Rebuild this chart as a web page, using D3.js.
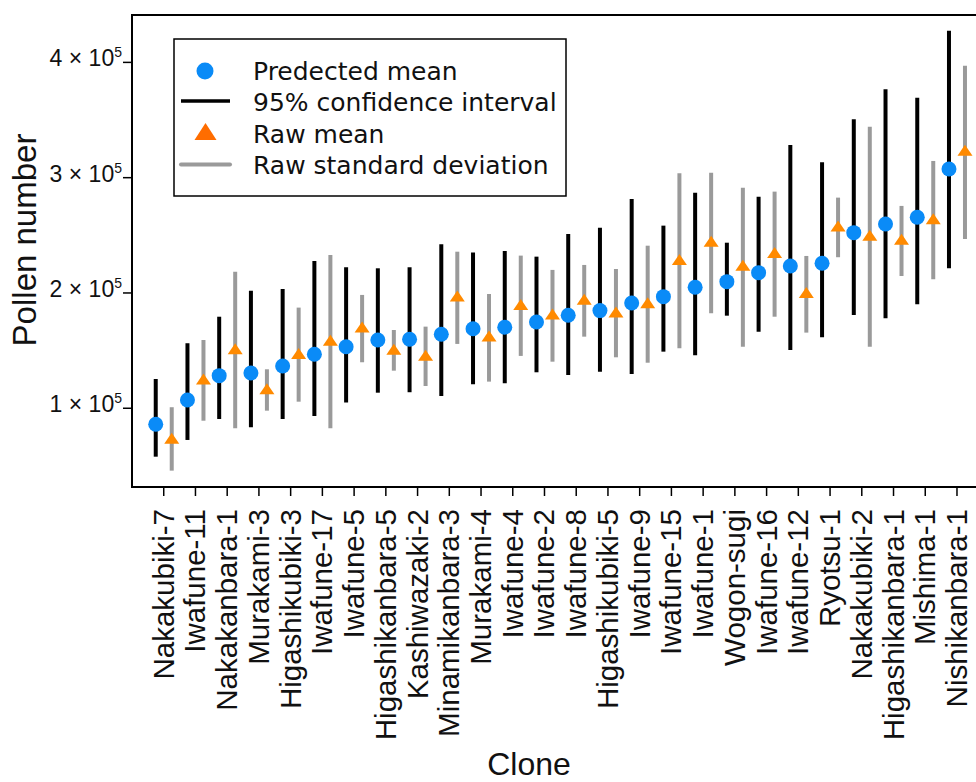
<!DOCTYPE html>
<html>
<head>
    <title>Pollen number by clone</title>
    <script src="https://d3js.org/d3.v7.min.js"></script>
    <style>
        body {
            margin: 0;
            padding: 0;
            background-color: #fff;
        }
        svg {
            display: block;
        }
        .tick-label {
            font-family: 'Liberation Sans', Arial, sans-serif;
            fill: #111;
        }
        .legend-text {
            font-family: 'DejaVu Sans', sans-serif;
            font-size: 25px;
            fill: #111;
        }
    </style>
</head>
<body>
    <svg id="chart" width="976" height="782"></svg>

    <script>
        // clones in plot order
        const clones = ["Nakakubiki-7", "Iwafune-11", "Nakakanbara-1", "Murakami-3", "Higashikubiki-3",
            "Iwafune-17", "Iwafune-5", "Higashikanbara-5", "Kashiwazaki-2", "Minamikanbara-3",
            "Murakami-4", "Iwafune-4", "Iwafune-2", "Iwafune-8", "Higashikubiki-5", "Iwafune-9",
            "Iwafune-15", "Iwafune-1", "Wogon-sugi", "Iwafune-16", "Iwafune-12", "Ryotsu-1",
            "Nakakubiki-2", "Higashikanbara-1", "Mishima-1", "Nishikanbara-1"];

        // predicted mean + 95% CI
        const predMean = [86100, 107200, 128300, 130600, 136700, 146800, 153400, 159200, 159800, 164200,
            169000, 170300, 174800, 180700, 184700, 191300, 196800, 204900, 209800, 217600,
            223400, 225800, 252300, 259800, 265700, 307500];
        const ciLow = [58000, 72500, 90700, 83500, 90700, 93300, 104900, 113500, 113900, 110700,
            120800, 121700, 131200, 128900, 131700, 129700, 149100, 146000, 180300, 166400,
            150600, 161600, 180900, 178100, 190200, 221400];
        const ciHigh = [125400, 156400, 179400, 202000, 203500, 227800, 222300, 221400, 222300, 242200,
            235000, 236400, 231500, 251200, 256600, 281500, 258400, 287000, 243600, 283500,
            328400, 313400, 350700, 376700, 369400, 427500];

        // raw mean + standard deviation bounds
        const rawMean = [74000, 125400, 151700, 117000, 147400, 159000, 170500, 151200, 146000, 197400,
            162700, 189900, 181800, 194500, 183500, 191600, 229000, 244900, 224000, 235000,
            200300, 258100, 250000, 246600, 264400, 323800];
        const sdLow = [45900, 89200, 82700, 97900, 105700, 82700, 139900, 132600, 119300, 155800,
            123100, 145400, 140400, 162100, 144200, 139500, 152000, 182400, 153400, 179400,
            165600, 231000, 153400, 214700, 211900, 246800];
        const sdHigh = [100900, 159200, 218500, 133800, 187300, 233000, 198300, 167900, 170800, 235800,
            199100, 232400, 220000, 224300, 220800, 241000, 303800, 304300, 291300, 287900,
            232100, 282700, 344200, 275500, 314500, 397100];

        const yTicks = [1, 2, 3, 4];

        const legendItems = ["Predected mean", "95% confidence interval", "Raw mean", "Raw standard deviation"];

        const blue = "#0a8bf7";
        const orange = "#ff8a00";
        const gray = "#9a9a9a";

        const svg = d3.select("#chart");
        const plotLeft = 132, plotTop = 15, plotBottom = 487;
        const step = 31.73;
        const plotRight = plotLeft + step * (clones.length + 1);

        const x = d3.scalePoint().domain(clones).range([plotLeft, plotRight]).padding(1);
        const y = d3.scaleLinear().domain([31700, 441100]).range([plotBottom, plotTop]);

        const data = clones.map((c, i) => ({
            clone: c, pred: predMean[i], lo: ciLow[i], hi: ciHigh[i],
            raw: rawMean[i], sdLo: sdLow[i], sdHi: sdHigh[i]
        }));

        // frame
        svg.append("rect")
            .attr("x", plotLeft).attr("y", plotTop)
            .attr("width", plotRight - plotLeft).attr("height", plotBottom - plotTop)
            .attr("fill", "none").attr("stroke", "#000").attr("stroke-width", 2);

        // x ticks + labels
        const xg = svg.append("g");
        xg.selectAll("line").data(clones).join("line")
            .attr("x1", d => x(d)).attr("x2", d => x(d))
            .attr("y1", plotBottom).attr("y2", plotBottom + 9)
            .attr("stroke", "#000").attr("stroke-width", 1.5);
        xg.selectAll("text").data(clones).join("text")
            .attr("class", "tick-label")
            .attr("transform", d => `translate(${x(d) + 10},${plotBottom + 22}) rotate(-90)`)
            .attr("text-anchor", "end")
            .style("font-size", "29.5px")
            .text(d => d);

        // y ticks + labels
        const yg = svg.append("g");
        yg.selectAll("line").data(yTicks).join("line")
            .attr("x1", plotLeft - 9).attr("x2", plotLeft)
            .attr("y1", d => y(d * 1e5)).attr("y2", d => y(d * 1e5))
            .attr("stroke", "#000").attr("stroke-width", 1.5);
        const yt = yg.selectAll("text").data(yTicks).join("text")
            .attr("class", "tick-label")
            .attr("x", plotLeft - 10)
            .attr("y", d => y(d * 1e5) + 4)
            .attr("text-anchor", "end")
            .style("font-size", "23px");
        yt.append("tspan").text(d => d + " \u00d7 10");
        yt.append("tspan").attr("dy", -9).style("font-size", "14px").text("5");

        // axis titles
        svg.append("text")
            .attr("class", "tick-label")
            .attr("transform", "translate(36,240) rotate(-90)")
            .attr("text-anchor", "middle")
            .style("font-size", "33px")
            .text("Pollen number");
        svg.append("text")
            .attr("class", "tick-label")
            .attr("x", 529).attr("y", 775)
            .attr("text-anchor", "middle")
            .style("font-size", "32px")
            .text("Clone");

        // error bars
        const plot = svg.append("g");
        plot.selectAll(".ci").data(data).join("line")
            .attr("class", "ci")
            .attr("x1", d => x(d.clone) - 8).attr("x2", d => x(d.clone) - 8)
            .attr("y1", d => y(d.lo)).attr("y2", d => y(d.hi))
            .attr("stroke", "#000").attr("stroke-width", 4);
        plot.selectAll(".sd").data(data).join("line")
            .attr("class", "sd")
            .attr("x1", d => x(d.clone) + 8).attr("x2", d => x(d.clone) + 8)
            .attr("y1", d => y(d.sdLo)).attr("y2", d => y(d.sdHi))
            .attr("stroke", gray).attr("stroke-width", 4);

        function tri(cx, cy, w, h) {
            return `M${cx},${cy - h / 2}L${cx + w / 2},${cy + h / 2}L${cx - w / 2},${cy + h / 2}Z`;
        }

        plot.selectAll(".pred").data(data).join("circle")
            .attr("class", "pred")
            .attr("cx", d => x(d.clone) - 8).attr("cy", d => y(d.pred))
            .attr("r", 7.5).attr("fill", blue);
        plot.selectAll(".raw").data(data).join("path")
            .attr("class", "raw")
            .attr("d", d => tri(x(d.clone) + 8, y(d.raw), 15, 11))
            .attr("fill", orange);

        // legend
        const lg = svg.append("g");
        lg.append("rect")
            .attr("x", 174).attr("y", 39).attr("width", 392).attr("height", 157)
            .attr("fill", "#fff").attr("stroke", "#000").attr("stroke-width", 1.5);
        lg.selectAll("text").data(legendItems).join("text")
            .attr("class", "legend-text")
            .attr("x", 253).attr("y", (d, i) => 80 + i * 31.3)
            .text(d => d);
        lg.append("circle").attr("cx", 205).attr("cy", 71).attr("r", 8.5).attr("fill", blue);
        lg.append("line").attr("x1", 181).attr("x2", 230).attr("y1", 101).attr("y2", 101)
            .attr("stroke", "#000").attr("stroke-width", 3.5);
        lg.append("path").attr("d", tri(205.5, 131.5, 22, 17)).attr("fill", "#ff6d00");
        lg.append("line").attr("x1", 181).attr("x2", 230).attr("y1", 164.5).attr("y2", 164.5)
            .attr("stroke", gray).attr("stroke-width", 4).attr("stroke-linecap", "round");
    </script>
</body>
</html>
